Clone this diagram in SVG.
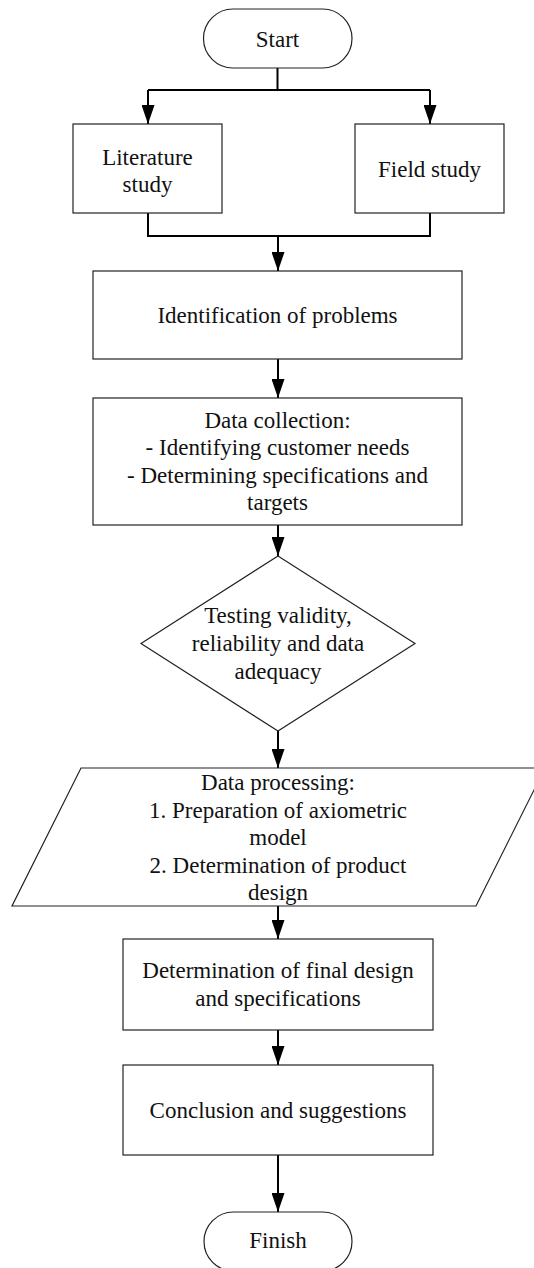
<svg xmlns="http://www.w3.org/2000/svg" width="534" height="1268" viewBox="0 0 534 1268">
<style>
.shape{fill:#fff;stroke:#222;stroke-width:1.2}
.conn{fill:none;stroke:#000;stroke-width:2}
.t{font-size:23px;fill:#111;text-anchor:middle}
</style>
<defs>
<marker id="ah" markerUnits="userSpaceOnUse" markerWidth="19" markerHeight="13" refX="19" refY="6.5" orient="auto">
<path d="M0,0 L19,6.5 L0,13 z" fill="#000"/>
</marker>
</defs>
<rect width="534" height="1268" fill="#fff"/>
<g id="connectors">
<path class="conn" d="M277.5,68 V90 M148,90 H430"/>
<path class="conn" d="M148,90 V124" marker-end="url(#ah)"/>
<path class="conn" d="M430,90 V124" marker-end="url(#ah)"/>
<path class="conn" d="M148,213 V236 H430 V213"/>
<path class="conn" d="M278,236 V271" marker-end="url(#ah)"/>
<path class="conn" d="M278,359 V398" marker-end="url(#ah)"/>
<path class="conn" d="M278,525 V556" marker-end="url(#ah)"/>
<path class="conn" d="M278,731 V768" marker-end="url(#ah)"/>
<path class="conn" d="M278,906 V939" marker-end="url(#ah)"/>
<path class="conn" d="M278,1030 V1065" marker-end="url(#ah)"/>
<path class="conn" d="M278,1155 V1212" marker-end="url(#ah)"/>
</g>
<g font-family="Liberation Serif, Times New Roman, DejaVu Serif, serif" class="t">
<g id="start">
<rect class="shape" x="203.5" y="9" width="148.5" height="59" rx="29.5" ry="29.5"/>
<text x="277.5" y="47">Start</text>
</g>
<g id="literature">
<rect class="shape" x="73" y="124" width="149" height="89"/>
<text x="147.5" y="165">Literature</text>
<text x="147.5" y="192">study</text>
</g>
<g id="field">
<rect class="shape" x="355" y="124" width="149" height="89"/>
<text x="429.5" y="177">Field study</text>
</g>
<g id="identification">
<rect class="shape" x="93" y="271" width="369" height="88"/>
<text x="277.5" y="323">Identification of problems</text>
</g>
<g id="collection">
<rect class="shape" x="93" y="398" width="369" height="127"/>
<text x="277.5" y="428">Data collection:</text>
<text x="277.5" y="455">- Identifying customer needs</text>
<text x="277.5" y="483">- Determining specifications and</text>
<text x="277.5" y="510">targets</text>
</g>
<g id="testing">
<path class="shape" d="M278,556 L415,643.5 L278,731 L141,643.5 Z"/>
<text x="278" y="623">Testing validity,</text>
<text x="278" y="651">reliability and data</text>
<text x="278" y="679">adequacy</text>
</g>
<g id="processing">
<path class="shape" d="M81,768 L545,768 L476,906 L12,906 Z"/>
<text x="278" y="790">Data processing:</text>
<text x="278" y="818">1. Preparation of axiometric</text>
<text x="278" y="845">model</text>
<text x="278" y="873">2. Determination of product</text>
<text x="278" y="900">design</text>
</g>
<g id="final">
<rect class="shape" x="123" y="939" width="310" height="91"/>
<text x="278" y="978">Determination of final design</text>
<text x="278" y="1006">and specifications</text>
</g>
<g id="conclusion">
<rect class="shape" x="123" y="1065" width="310" height="90"/>
<text x="278" y="1118">Conclusion and suggestions</text>
</g>
<g id="finish">
<rect class="shape" x="204" y="1212" width="148" height="59" rx="29.5" ry="29.5"/>
<text x="278" y="1248">Finish</text>
</g>
</g>
</svg>
